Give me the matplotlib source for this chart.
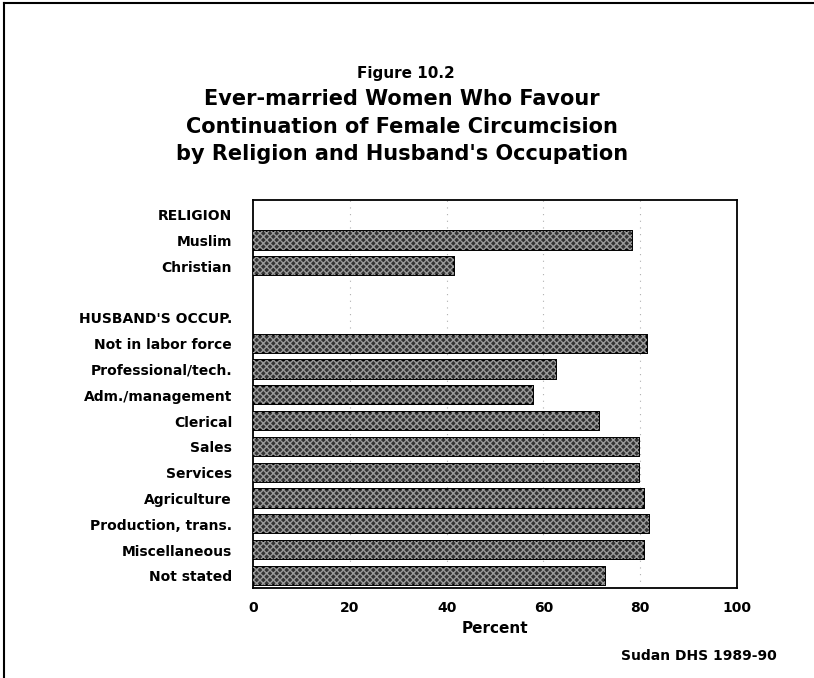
import matplotlib
matplotlib.use("Agg")
import matplotlib.pyplot as plt
from matplotlib.lines import Line2D

plt.rcParams['font.family'] = ['DejaVu Sans']

row_labels = ["RELIGION", "Muslim", "Christian", "", "HUSBAND'S OCCUP.",
              "Not in labor force", "Professional/tech.", "Adm./management",
              "Clerical", "Sales", "Services", "Agriculture",
              "Production, trans.", "Miscellaneous", "Not stated"]
categories = ["Muslim", "Christian", "Not in labor force", "Professional/tech.",
              "Adm./management", "Clerical", "Sales", "Services", "Agriculture",
              "Production, trans.", "Miscellaneous", "Not stated"]
values = [78.3, 41.5, 81.4, 62.6, 57.9, 71.5, 79.8, 79.8, 80.8, 81.8, 80.8, 72.7]
xticks = [0, 20, 40, 60, 80, 100]

fig = plt.figure(figsize=(8.14, 6.78), dpi=100)
ax = fig.add_axes([253/814, 1 - 588/678, (737 - 253)/814, (588 - 200)/678])

pos = [row_labels.index(c) for c in categories]
ax.barh(pos, values, height=0.7, color='#333333', edgecolor='black', linewidth=1.4, zorder=2)
ax.barh(pos, values, height=0.7, facecolor='none', edgecolor='#9a9a9a', hatch='xxxxx',
        linewidth=0, zorder=3)

ax.set_xlim(0, 100)
ax.set_ylim(14.47, -0.57)
ax.set_xticks(xticks)
ax.set_xticklabels([str(t) for t in xticks], fontsize=10, fontweight='bold')
ax.set_yticks(range(len(row_labels)))
ax.set_yticklabels(row_labels, fontsize=10, fontweight='bold')
ax.tick_params(axis='both', length=0)
ax.tick_params(axis='y', pad=15)
ax.tick_params(axis='x', pad=9)
for x in [20, 40, 60, 80]:
    ax.axvline(x, color='#b0b0b0', linestyle=(0, (1, 5)), linewidth=0.8, zorder=1)
for s in ax.spines.values():
    s.set_linewidth(1.3)
ax.set_xlabel("Percent", fontsize=11, fontweight='bold', labelpad=5)

cx = 402 / 814
fig.text(cx + 4/814, 1 - 78/678, "Figure 10.2", ha='center', va='baseline', fontsize=11, fontweight='bold')
fig.text(cx, 1 - 105/678, "Ever-married Women Who Favour", ha='center', va='baseline',
         fontsize=15, fontweight='bold')
fig.text(cx, 1 - 133/678, "Continuation of Female Circumcision", ha='center', va='baseline',
         fontsize=15, fontweight='bold')
fig.text(cx, 1 - 160/678, "by Religion and Husband's Occupation", ha='center', va='baseline',
         fontsize=15, fontweight='bold')
fig.text(777/814, 1 - 660/678, "Sudan DHS 1989-90", ha='right', va='baseline', fontsize=10,
         fontweight='bold')

fig.add_artist(Line2D([0.005, 0.005], [0.0, 0.995], transform=fig.transFigure, color='black', linewidth=1.5))
fig.add_artist(Line2D([0.005, 1.0], [0.995, 0.995], transform=fig.transFigure, color='black', linewidth=1.5))

fig.savefig("out.png", dpi=100)
